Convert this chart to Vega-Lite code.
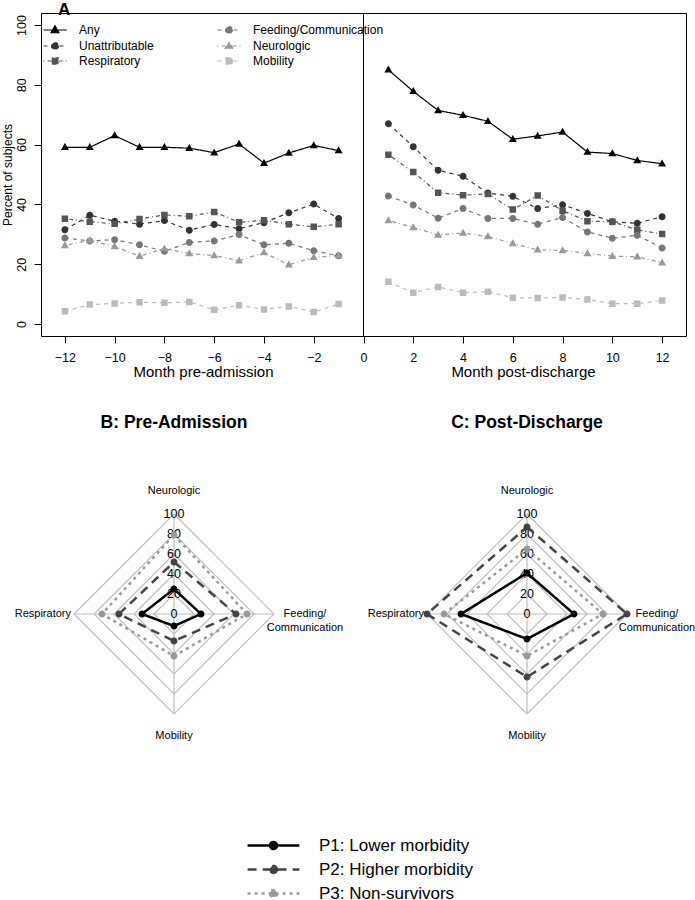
{
  "$schema": "https://vega.github.io/schema/vega-lite/v6.json",
  "padding": {"left": 0, "top": 0, "right": 0, "bottom": 0},
  "background": "white",
  "config": {
    "font": "Liberation Sans",
    "view": {"stroke": null},
    "axis": {"labelFont": "Liberation Sans", "titleFont": "Liberation Sans", "labelColor": "black", "titleColor": "black", "tickColor": "black", "domainColor": "black", "grid": false, "titleFontWeight": "normal"},
    "legend": {"labelFont": "Liberation Sans", "labelColor": "black"},
    "title": {"font": "Liberation Sans", "color": "black"}
  },
  "datasets": {
    "a": [
      {"month": -12, "type": "Any", "pct": 59.1}, {"month": -11, "type": "Any", "pct": 59.1}, {"month": -10, "type": "Any", "pct": 63.0}, {"month": -9, "type": "Any", "pct": 59.1}, {"month": -8, "type": "Any", "pct": 59.1}, {"month": -7, "type": "Any", "pct": 58.8}, {"month": -6, "type": "Any", "pct": 57.3}, {"month": -5, "type": "Any", "pct": 60.2}, {"month": -4, "type": "Any", "pct": 53.8}, {"month": -3, "type": "Any", "pct": 57.2}, {"month": -2, "type": "Any", "pct": 59.7}, {"month": -1, "type": "Any", "pct": 58.0},
      {"month": 1, "type": "Any", "pct": 85.0}, {"month": 2, "type": "Any", "pct": 77.8}, {"month": 3, "type": "Any", "pct": 71.4}, {"month": 4, "type": "Any", "pct": 69.8}, {"month": 5, "type": "Any", "pct": 67.8}, {"month": 6, "type": "Any", "pct": 61.8}, {"month": 7, "type": "Any", "pct": 62.9}, {"month": 8, "type": "Any", "pct": 64.2}, {"month": 9, "type": "Any", "pct": 57.5}, {"month": 10, "type": "Any", "pct": 57.0}, {"month": 11, "type": "Any", "pct": 54.7}, {"month": 12, "type": "Any", "pct": 53.6},
      {"month": -12, "type": "Unattributable", "pct": 31.5}, {"month": -11, "type": "Unattributable", "pct": 36.4}, {"month": -10, "type": "Unattributable", "pct": 34.4}, {"month": -9, "type": "Unattributable", "pct": 33.4}, {"month": -8, "type": "Unattributable", "pct": 34.6}, {"month": -7, "type": "Unattributable", "pct": 31.4}, {"month": -6, "type": "Unattributable", "pct": 33.3}, {"month": -5, "type": "Unattributable", "pct": 31.9}, {"month": -4, "type": "Unattributable", "pct": 33.9}, {"month": -3, "type": "Unattributable", "pct": 37.2}, {"month": -2, "type": "Unattributable", "pct": 40.1}, {"month": -1, "type": "Unattributable", "pct": 35.3},
      {"month": 1, "type": "Unattributable", "pct": 67.0}, {"month": 2, "type": "Unattributable", "pct": 59.3}, {"month": 3, "type": "Unattributable", "pct": 51.4}, {"month": 4, "type": "Unattributable", "pct": 49.4}, {"month": 5, "type": "Unattributable", "pct": 43.8}, {"month": 6, "type": "Unattributable", "pct": 42.7}, {"month": 7, "type": "Unattributable", "pct": 38.6}, {"month": 8, "type": "Unattributable", "pct": 39.9}, {"month": 9, "type": "Unattributable", "pct": 37.0}, {"month": 10, "type": "Unattributable", "pct": 34.2}, {"month": 11, "type": "Unattributable", "pct": 33.7}, {"month": 12, "type": "Unattributable", "pct": 35.9},
      {"month": -12, "type": "Respiratory", "pct": 35.2}, {"month": -11, "type": "Respiratory", "pct": 34.2}, {"month": -10, "type": "Respiratory", "pct": 33.5}, {"month": -9, "type": "Respiratory", "pct": 35.1}, {"month": -8, "type": "Respiratory", "pct": 36.5}, {"month": -7, "type": "Respiratory", "pct": 36.0}, {"month": -6, "type": "Respiratory", "pct": 37.5}, {"month": -5, "type": "Respiratory", "pct": 34.0}, {"month": -4, "type": "Respiratory", "pct": 34.7}, {"month": -3, "type": "Respiratory", "pct": 33.4}, {"month": -2, "type": "Respiratory", "pct": 32.5}, {"month": -1, "type": "Respiratory", "pct": 33.4},
      {"month": 1, "type": "Respiratory", "pct": 56.6}, {"month": 2, "type": "Respiratory", "pct": 50.8}, {"month": 3, "type": "Respiratory", "pct": 43.9}, {"month": 4, "type": "Respiratory", "pct": 43.1}, {"month": 5, "type": "Respiratory", "pct": 43.5}, {"month": 6, "type": "Respiratory", "pct": 38.3}, {"month": 7, "type": "Respiratory", "pct": 43.0}, {"month": 8, "type": "Respiratory", "pct": 37.9}, {"month": 9, "type": "Respiratory", "pct": 34.4}, {"month": 10, "type": "Respiratory", "pct": 34.2}, {"month": 11, "type": "Respiratory", "pct": 31.5}, {"month": 12, "type": "Respiratory", "pct": 30.1},
      {"month": -12, "type": "Feeding/Communication", "pct": 28.8}, {"month": -11, "type": "Feeding/Communication", "pct": 27.8}, {"month": -10, "type": "Feeding/Communication", "pct": 28.2}, {"month": -9, "type": "Feeding/Communication", "pct": 26.5}, {"month": -8, "type": "Feeding/Communication", "pct": 24.3}, {"month": -7, "type": "Feeding/Communication", "pct": 27.3}, {"month": -6, "type": "Feeding/Communication", "pct": 27.8}, {"month": -5, "type": "Feeding/Communication", "pct": 29.9}, {"month": -4, "type": "Feeding/Communication", "pct": 26.5}, {"month": -3, "type": "Feeding/Communication", "pct": 27.0}, {"month": -2, "type": "Feeding/Communication", "pct": 24.5}, {"month": -1, "type": "Feeding/Communication", "pct": 22.8},
      {"month": 1, "type": "Feeding/Communication", "pct": 42.8}, {"month": 2, "type": "Feeding/Communication", "pct": 39.8}, {"month": 3, "type": "Feeding/Communication", "pct": 35.4}, {"month": 4, "type": "Feeding/Communication", "pct": 38.6}, {"month": 5, "type": "Feeding/Communication", "pct": 35.3}, {"month": 6, "type": "Feeding/Communication", "pct": 35.3}, {"month": 7, "type": "Feeding/Communication", "pct": 33.4}, {"month": 8, "type": "Feeding/Communication", "pct": 35.6}, {"month": 9, "type": "Feeding/Communication", "pct": 30.8}, {"month": 10, "type": "Feeding/Communication", "pct": 28.7}, {"month": 11, "type": "Feeding/Communication", "pct": 29.7}, {"month": 12, "type": "Feeding/Communication", "pct": 25.4},
      {"month": -12, "type": "Neurologic", "pct": 26.3}, {"month": -11, "type": "Neurologic", "pct": 28.0}, {"month": -10, "type": "Neurologic", "pct": 25.9}, {"month": -9, "type": "Neurologic", "pct": 22.7}, {"month": -8, "type": "Neurologic", "pct": 25.2}, {"month": -7, "type": "Neurologic", "pct": 23.6}, {"month": -6, "type": "Neurologic", "pct": 22.9}, {"month": -5, "type": "Neurologic", "pct": 21.2}, {"month": -4, "type": "Neurologic", "pct": 23.9}, {"month": -3, "type": "Neurologic", "pct": 19.8}, {"month": -2, "type": "Neurologic", "pct": 22.3}, {"month": -1, "type": "Neurologic", "pct": 22.9},
      {"month": 1, "type": "Neurologic", "pct": 34.6}, {"month": 2, "type": "Neurologic", "pct": 32.3}, {"month": 3, "type": "Neurologic", "pct": 29.8}, {"month": 4, "type": "Neurologic", "pct": 30.4}, {"month": 5, "type": "Neurologic", "pct": 29.3}, {"month": 6, "type": "Neurologic", "pct": 26.9}, {"month": 7, "type": "Neurologic", "pct": 24.8}, {"month": 8, "type": "Neurologic", "pct": 24.6}, {"month": 9, "type": "Neurologic", "pct": 23.6}, {"month": 10, "type": "Neurologic", "pct": 22.7}, {"month": 11, "type": "Neurologic", "pct": 22.5}, {"month": 12, "type": "Neurologic", "pct": 20.5},
      {"month": -12, "type": "Mobility", "pct": 4.3}, {"month": -11, "type": "Mobility", "pct": 6.5}, {"month": -10, "type": "Mobility", "pct": 6.9}, {"month": -9, "type": "Mobility", "pct": 7.3}, {"month": -8, "type": "Mobility", "pct": 7.1}, {"month": -7, "type": "Mobility", "pct": 7.4}, {"month": -6, "type": "Mobility", "pct": 4.8}, {"month": -5, "type": "Mobility", "pct": 6.3}, {"month": -4, "type": "Mobility", "pct": 4.9}, {"month": -3, "type": "Mobility", "pct": 5.9}, {"month": -2, "type": "Mobility", "pct": 4.0}, {"month": -1, "type": "Mobility", "pct": 6.7},
      {"month": 1, "type": "Mobility", "pct": 14.1}, {"month": 2, "type": "Mobility", "pct": 10.5}, {"month": 3, "type": "Mobility", "pct": 12.4}, {"month": 4, "type": "Mobility", "pct": 10.5}, {"month": 5, "type": "Mobility", "pct": 10.8}, {"month": 6, "type": "Mobility", "pct": 8.8}, {"month": 7, "type": "Mobility", "pct": 8.7}, {"month": 8, "type": "Mobility", "pct": 8.9}, {"month": 9, "type": "Mobility", "pct": 8.2}, {"month": 10, "type": "Mobility", "pct": 6.8}, {"month": 11, "type": "Mobility", "pct": 6.8}, {"month": 12, "type": "Mobility", "pct": 7.9}
    ],
    "radar": [
      {"panel": "B", "group": "P1: Lower morbidity", "axis": "Neurologic", "value": 25},
      {"panel": "B", "group": "P1: Lower morbidity", "axis": "Feeding/Communication", "value": 27},
      {"panel": "B", "group": "P1: Lower morbidity", "axis": "Mobility", "value": 12},
      {"panel": "B", "group": "P1: Lower morbidity", "axis": "Respiratory", "value": 32},
      {"panel": "B", "group": "P2: Higher morbidity", "axis": "Neurologic", "value": 52},
      {"panel": "B", "group": "P2: Higher morbidity", "axis": "Feeding/Communication", "value": 62},
      {"panel": "B", "group": "P2: Higher morbidity", "axis": "Mobility", "value": 27},
      {"panel": "B", "group": "P2: Higher morbidity", "axis": "Respiratory", "value": 55},
      {"panel": "B", "group": "P3: Non-survivors", "axis": "Neurologic", "value": 79},
      {"panel": "B", "group": "P3: Non-survivors", "axis": "Feeding/Communication", "value": 73},
      {"panel": "B", "group": "P3: Non-survivors", "axis": "Mobility", "value": 42},
      {"panel": "B", "group": "P3: Non-survivors", "axis": "Respiratory", "value": 72},
      {"panel": "C", "group": "P1: Lower morbidity", "axis": "Neurologic", "value": 41},
      {"panel": "C", "group": "P1: Lower morbidity", "axis": "Feeding/Communication", "value": 47},
      {"panel": "C", "group": "P1: Lower morbidity", "axis": "Mobility", "value": 25},
      {"panel": "C", "group": "P1: Lower morbidity", "axis": "Respiratory", "value": 66},
      {"panel": "C", "group": "P2: Higher morbidity", "axis": "Neurologic", "value": 87},
      {"panel": "C", "group": "P2: Higher morbidity", "axis": "Feeding/Communication", "value": 100},
      {"panel": "C", "group": "P2: Higher morbidity", "axis": "Mobility", "value": 63},
      {"panel": "C", "group": "P2: Higher morbidity", "axis": "Respiratory", "value": 100},
      {"panel": "C", "group": "P3: Non-survivors", "axis": "Neurologic", "value": 65},
      {"panel": "C", "group": "P3: Non-survivors", "axis": "Feeding/Communication", "value": 76},
      {"panel": "C", "group": "P3: Non-survivors", "axis": "Mobility", "value": 42},
      {"panel": "C", "group": "P3: Non-survivors", "axis": "Respiratory", "value": 83}
    ],
    "rings": [
      {"ring": 20, "axis": "Neurologic"}, {"ring": 20, "axis": "Feeding/Communication"}, {"ring": 20, "axis": "Mobility"}, {"ring": 20, "axis": "Respiratory"},
      {"ring": 40, "axis": "Neurologic"}, {"ring": 40, "axis": "Feeding/Communication"}, {"ring": 40, "axis": "Mobility"}, {"ring": 40, "axis": "Respiratory"},
      {"ring": 60, "axis": "Neurologic"}, {"ring": 60, "axis": "Feeding/Communication"}, {"ring": 60, "axis": "Mobility"}, {"ring": 60, "axis": "Respiratory"},
      {"ring": 80, "axis": "Neurologic"}, {"ring": 80, "axis": "Feeding/Communication"}, {"ring": 80, "axis": "Mobility"}, {"ring": 80, "axis": "Respiratory"},
      {"ring": 100, "axis": "Neurologic"}, {"ring": 100, "axis": "Feeding/Communication"}, {"ring": 100, "axis": "Mobility"}, {"ring": 100, "axis": "Respiratory"}
    ],
    "ticks": [{"v": 0}, {"v": 20}, {"v": 40}, {"v": 60}, {"v": 80}, {"v": 100}],
    "axes": [{"axis": "Neurologic"}, {"axis": "Feeding/Communication"}, {"axis": "Mobility"}, {"axis": "Respiratory"}]
  },
  "spacing": 33,
  "resolve": {"scale": {"color": "independent", "strokeDash": "independent", "shape": "independent"}},
  "vconcat": [
    {
      "width": 645,
      "height": 323,
      "view": {"stroke": "black", "strokeWidth": 1},
      "title": {"text": "A", "anchor": "start", "fontSize": 17, "fontWeight": "bold", "dx": 17, "offset": -6, "frame": "group"},
      "resolve": {"axis": {"x": "independent"}},
      "layer": [
        {
          "data": {"values": [{"zero": 0}]},
          "mark": {"type": "rule", "color": "black", "strokeWidth": 1},
          "encoding": {"x": {"field": "zero", "type": "quantitative", "scale": {"domain": [-12.96, 12.96], "nice": false, "zero": false}, "axis": null}}
        },
        {
          "data": {"name": "a"},
          "transform": [{"filter": "datum.month < 0"}],
          "mark": {"type": "line", "strokeWidth": 1.2},
          "encoding": {
            "x": {"field": "month", "type": "quantitative", "scale": {"domain": [-12.96, 12.96], "nice": false, "zero": false},
                  "axis": {"orient": "bottom", "values": [-12, -10, -8, -6, -4, -2, 0], "title": "Month pre-admission", "titleX": 162, "titleFontSize": 15, "titlePadding": 1, "labelFontSize": 12.5, "tickSize": 7, "labelPadding": 8, "domain": false, "labelFlush": false}},
            "y": {"field": "pct", "type": "quantitative", "scale": {"domain": [-4, 104], "nice": false, "zero": false},
                  "axis": {"values": [0, 20, 40, 60, 80, 100], "title": "Percent of subjects", "titleFontSize": 12, "labelAngle": -90, "labelAlign": "center", "labelBaseline": "bottom", "labelFontSize": 12.5, "tickSize": 7, "labelPadding": 6, "domain": false, "titlePadding": 1}},
            "color": {"field": "type", "type": "nominal",
                      "scale": {"domain": ["Any", "Unattributable", "Respiratory", "Feeding/Communication", "Neurologic", "Mobility"], "range": ["#000000", "#333333", "#555555", "#777777", "#999999", "#bbbbbb"]},
                      "legend": {"orient": "none", "legendX": 8, "legendY": 11, "columns": 2, "direction": "vertical", "title": null, "labelFontSize": 12, "symbolSize": 100, "labelOffset": 18, "rowPadding": 3, "columnPadding": 61, "symbolStrokeWidth": 1.2}},
            "strokeDash": {"field": "type", "type": "nominal",
                      "scale": {"domain": ["Any", "Unattributable", "Respiratory", "Feeding/Communication", "Neurologic", "Mobility"], "range": [[1, 0], [4, 4], [1, 3, 4, 3], [4, 4], [1, 3, 4, 3], [4, 4]]}}
          }
        },
        {
          "data": {"name": "a"},
          "transform": [{"filter": "datum.month > 0"}],
          "mark": {"type": "line", "strokeWidth": 1.2},
          "encoding": {
            "x": {"field": "month", "type": "quantitative", "scale": {"domain": [-12.96, 12.96], "nice": false, "zero": false},
                  "axis": {"orient": "bottom", "values": [2, 4, 6, 8, 10, 12], "title": "Month post-discharge", "titleX": 482, "titleFontSize": 15, "titlePadding": 1, "labelFontSize": 12.5, "tickSize": 7, "labelPadding": 8, "domain": false, "labelFlush": false}},
            "y": {"field": "pct", "type": "quantitative", "scale": {"domain": [-4, 104], "nice": false, "zero": false}},
            "color": {"field": "type", "type": "nominal"},
            "strokeDash": {"field": "type", "type": "nominal"}
          }
        },
        {
          "data": {"name": "a"},
          "mark": {"type": "point", "filled": true, "opacity": 1, "size": 100, "strokeWidth": 0},
          "encoding": {
            "x": {"field": "month", "type": "quantitative", "scale": {"domain": [-12.96, 12.96], "nice": false, "zero": false}, "axis": null},
            "y": {"field": "pct", "type": "quantitative", "scale": {"domain": [-4, 104], "nice": false, "zero": false}},
            "color": {"field": "type", "type": "nominal"},
            "shape": {"field": "type", "type": "nominal",
                      "scale": {"domain": ["Any", "Unattributable", "Respiratory", "Feeding/Communication", "Neurologic", "Mobility"],
                                "range": ["M-2.3,0H2.3M0,-0.85L0.8,0.55L-0.8,0.55Z", "M-2.3,0H2.3M0.7,0A0.7,0.7,0,1,1,-0.7,0A0.7,0.7,0,1,1,0.7,0Z", "M-2.3,0H2.3M-0.65,-0.65H0.65V0.65H-0.65Z", "M-2.3,0H2.3M0.7,0A0.7,0.7,0,1,1,-0.7,0A0.7,0.7,0,1,1,0.7,0Z", "M-2.3,0H2.3M0,-0.85L0.8,0.55L-0.8,0.55Z", "M-2.3,0H2.3M-0.65,-0.65H0.65V0.65H-0.65Z"]}}
          }
        }
      ]
    },
    {
      "spacing": 10,
      "hconcat": [
        {
          "width": 300, "height": 300,
          "title": {"text": "B: Pre-Admission", "fontSize": 17.5, "fontWeight": "bold", "offset": 33, "anchor": "middle", "dx": -17},
          "layer": [
            {
              "data": {"name": "rings"},
              "transform": [
                {"calculate": "datum.axis === 'Feeding/Communication' ? datum.ring : (datum.axis === 'Respiratory' ? -datum.ring : 0)", "as": "x"},
                {"calculate": "datum.axis === 'Neurologic' ? datum.ring : (datum.axis === 'Mobility' ? -datum.ring : 0)", "as": "y"},
                {"calculate": "indexof(['Neurologic','Feeding/Communication','Mobility','Respiratory'], datum.axis)", "as": "ord"}
              ],
              "mark": {"type": "line", "interpolate": "linear-closed", "color": "#bebebe", "strokeWidth": 1.2},
              "encoding": {
                "x": {"field": "x", "type": "quantitative", "scale": {"domain": [-133, 167], "nice": false, "zero": false}, "axis": null},
                "y": {"field": "y", "type": "quantitative", "scale": {"domain": [-150, 150], "nice": false, "zero": false}, "axis": null},
                "detail": {"field": "ring", "type": "nominal"},
                "order": {"field": "ord", "type": "quantitative"}
              }
            },
            {
              "data": {"name": "rings"},
              "transform": [
                {"filter": "datum.ring === 100"},
                {"calculate": "datum.axis === 'Feeding/Communication' ? datum.ring : (datum.axis === 'Respiratory' ? -datum.ring : 0)", "as": "x"},
                {"calculate": "datum.axis === 'Neurologic' ? datum.ring : (datum.axis === 'Mobility' ? -datum.ring : 0)", "as": "y"},
                {"calculate": "0", "as": "x0"}
              ],
              "mark": {"type": "rule", "color": "#bebebe", "strokeWidth": 1.2},
              "encoding": {
                "x": {"field": "x0", "type": "quantitative", "scale": {"domain": [-133, 167], "nice": false, "zero": false}, "axis": null},
                "y": {"field": "x0", "type": "quantitative", "scale": {"domain": [-150, 150], "nice": false, "zero": false}, "axis": null},
                "x2": {"field": "x"},
                "y2": {"field": "y"}
              }
            },
            {
              "data": {"name": "ticks"},
              "transform": [{"calculate": "0", "as": "x0"}],
              "mark": {"type": "text", "fontSize": 12.5, "color": "black", "align": "center", "baseline": "middle"},
              "encoding": {
                "x": {"field": "x0", "type": "quantitative", "scale": {"domain": [-133, 167], "nice": false, "zero": false}, "axis": null},
                "y": {"field": "v", "type": "quantitative", "scale": {"domain": [-150, 150], "nice": false, "zero": false}, "axis": null},
                "text": {"field": "v", "type": "quantitative"}
              }
            },
            {
              "data": {"name": "radar"},
              "transform": [
                {"filter": "datum.panel === 'B'"},
                {"calculate": "datum.axis === 'Feeding/Communication' ? datum.value : (datum.axis === 'Respiratory' ? -datum.value : 0)", "as": "x"},
                {"calculate": "datum.axis === 'Neurologic' ? datum.value : (datum.axis === 'Mobility' ? -datum.value : 0)", "as": "y"},
                {"calculate": "indexof(['Neurologic','Feeding/Communication','Mobility','Respiratory'], datum.axis)", "as": "ord"}
              ],
              "mark": {"type": "line", "interpolate": "linear-closed", "strokeWidth": 2.5},
              "encoding": {
                "x": {"field": "x", "type": "quantitative", "scale": {"domain": [-133, 167], "nice": false, "zero": false}, "axis": null},
                "y": {"field": "y", "type": "quantitative", "scale": {"domain": [-150, 150], "nice": false, "zero": false}, "axis": null},
                "color": {"field": "group", "type": "nominal", "scale": {"domain": ["P1: Lower morbidity", "P2: Higher morbidity", "P3: Non-survivors"], "range": ["#000000", "#444444", "#999999"]},
                  "legend": {"orient": "none", "legendX": 224, "legendY": 373, "title": null, "direction": "vertical", "labelFontSize": 17, "symbolSize": 196, "labelOffset": 37, "rowPadding": 6, "symbolStrokeWidth": 2.5}},
                "strokeDash": {"field": "group", "type": "nominal", "scale": {"domain": ["P1: Lower morbidity", "P2: Higher morbidity", "P3: Non-survivors"], "range": [[1, 0], [9, 6], [3, 4]]}},
                "detail": {"field": "group", "type": "nominal"},
                "order": {"field": "ord", "type": "quantitative"}
              }
            },
            {
              "data": {"name": "radar"},
              "transform": [
                {"filter": "datum.panel === 'B'"},
                {"calculate": "datum.axis === 'Feeding/Communication' ? datum.value : (datum.axis === 'Respiratory' ? -datum.value : 0)", "as": "x"},
                {"calculate": "datum.axis === 'Neurologic' ? datum.value : (datum.axis === 'Mobility' ? -datum.value : 0)", "as": "y"}
              ],
              "mark": {"type": "point", "filled": true, "opacity": 1, "size": 196, "strokeWidth": 0},
              "encoding": {
                "x": {"field": "x", "type": "quantitative", "scale": {"domain": [-133, 167], "nice": false, "zero": false}, "axis": null},
                "y": {"field": "y", "type": "quantitative", "scale": {"domain": [-150, 150], "nice": false, "zero": false}, "axis": null},
                "color": {"field": "group", "type": "nominal"},
                "shape": {"field": "group", "type": "nominal", "scale": {"domain": ["P1: Lower morbidity", "P2: Higher morbidity", "P3: Non-survivors"],
                  "range": ["M-3.7,0H3.7M0.5,0A0.5,0.5,0,1,1,-0.5,0A0.5,0.5,0,1,1,0.5,0Z", "M-3.7,0H3.7M0.5,0A0.5,0.5,0,1,1,-0.5,0A0.5,0.5,0,1,1,0.5,0Z", "M-3.7,0H3.7M0.5,0A0.5,0.5,0,1,1,-0.5,0A0.5,0.5,0,1,1,0.5,0Z"]}}
              }
            },
            {
              "data": {"name": "axes"},
              "transform": [
                {"calculate": "datum.axis === 'Feeding/Communication' ? 131 : (datum.axis === 'Respiratory' ? -103 : 0)", "as": "x"},
                {"calculate": "datum.axis === 'Neurologic' ? 123 : (datum.axis === 'Mobility' ? -122 : 0)", "as": "y"},
                {"calculate": "replace(datum.axis, '/', '/\\n')", "as": "label"}
              ],
              "layer": [
                {
                  "transform": [{"filter": "datum.axis !== 'Respiratory'"}],
                  "mark": {"type": "text", "fontSize": 11, "color": "black", "align": "center", "baseline": "middle", "lineBreak": "\n", "lineHeight": 13.5},
                  "encoding": {
                    "x": {"field": "x", "type": "quantitative", "scale": {"domain": [-133, 167], "nice": false, "zero": false}, "axis": null},
                    "y": {"field": "y", "type": "quantitative", "scale": {"domain": [-150, 150], "nice": false, "zero": false}, "axis": null},
                    "text": {"field": "label", "type": "nominal"}
                  }
                },
                {
                  "transform": [{"filter": "datum.axis === 'Respiratory'"}],
                  "mark": {"type": "text", "fontSize": 11, "color": "black", "align": "right", "baseline": "middle"},
                  "encoding": {
                    "x": {"field": "x", "type": "quantitative", "scale": {"domain": [-133, 167], "nice": false, "zero": false}, "axis": null},
                    "y": {"field": "y", "type": "quantitative", "scale": {"domain": [-150, 150], "nice": false, "zero": false}, "axis": null},
                    "text": {"field": "label", "type": "nominal"}
                  }
                }
              ]
            }
          ]
        },
        {
          "width": 340, "height": 300,
          "title": {"text": "C: Post-Discharge", "fontSize": 17.5, "fontWeight": "bold", "offset": 33, "anchor": "middle", "dx": 3},
          "layer": [
            {
              "data": {"name": "rings"},
              "transform": [
                {"calculate": "datum.axis === 'Feeding/Communication' ? datum.ring : (datum.axis === 'Respiratory' ? -datum.ring : 0)", "as": "x"},
                {"calculate": "datum.axis === 'Neurologic' ? datum.ring : (datum.axis === 'Mobility' ? -datum.ring : 0)", "as": "y"},
                {"calculate": "indexof(['Neurologic','Feeding/Communication','Mobility','Respiratory'], datum.axis)", "as": "ord"}
              ],
              "mark": {"type": "line", "interpolate": "linear-closed", "color": "#bebebe", "strokeWidth": 1.2},
              "encoding": {
                "x": {"field": "x", "type": "quantitative", "scale": {"domain": [-173, 167], "nice": false, "zero": false}, "axis": null},
                "y": {"field": "y", "type": "quantitative", "scale": {"domain": [-150, 150], "nice": false, "zero": false}, "axis": null},
                "detail": {"field": "ring", "type": "nominal"},
                "order": {"field": "ord", "type": "quantitative"}
              }
            },
            {
              "data": {"name": "rings"},
              "transform": [
                {"filter": "datum.ring === 100"},
                {"calculate": "datum.axis === 'Feeding/Communication' ? datum.ring : (datum.axis === 'Respiratory' ? -datum.ring : 0)", "as": "x"},
                {"calculate": "datum.axis === 'Neurologic' ? datum.ring : (datum.axis === 'Mobility' ? -datum.ring : 0)", "as": "y"},
                {"calculate": "0", "as": "x0"}
              ],
              "mark": {"type": "rule", "color": "#bebebe", "strokeWidth": 1.2},
              "encoding": {
                "x": {"field": "x0", "type": "quantitative", "scale": {"domain": [-173, 167], "nice": false, "zero": false}, "axis": null},
                "y": {"field": "x0", "type": "quantitative", "scale": {"domain": [-150, 150], "nice": false, "zero": false}, "axis": null},
                "x2": {"field": "x"},
                "y2": {"field": "y"}
              }
            },
            {
              "data": {"name": "ticks"},
              "transform": [{"calculate": "0", "as": "x0"}],
              "mark": {"type": "text", "fontSize": 12.5, "color": "black", "align": "center", "baseline": "middle"},
              "encoding": {
                "x": {"field": "x0", "type": "quantitative", "scale": {"domain": [-173, 167], "nice": false, "zero": false}, "axis": null},
                "y": {"field": "v", "type": "quantitative", "scale": {"domain": [-150, 150], "nice": false, "zero": false}, "axis": null},
                "text": {"field": "v", "type": "quantitative"}
              }
            },
            {
              "data": {"name": "radar"},
              "transform": [
                {"filter": "datum.panel === 'C'"},
                {"calculate": "datum.axis === 'Feeding/Communication' ? datum.value : (datum.axis === 'Respiratory' ? -datum.value : 0)", "as": "x"},
                {"calculate": "datum.axis === 'Neurologic' ? datum.value : (datum.axis === 'Mobility' ? -datum.value : 0)", "as": "y"},
                {"calculate": "indexof(['Neurologic','Feeding/Communication','Mobility','Respiratory'], datum.axis)", "as": "ord"}
              ],
              "mark": {"type": "line", "interpolate": "linear-closed", "strokeWidth": 2.5},
              "encoding": {
                "x": {"field": "x", "type": "quantitative", "scale": {"domain": [-173, 167], "nice": false, "zero": false}, "axis": null},
                "y": {"field": "y", "type": "quantitative", "scale": {"domain": [-150, 150], "nice": false, "zero": false}, "axis": null},
                "color": {"field": "group", "type": "nominal"},
                "strokeDash": {"field": "group", "type": "nominal"},
                "detail": {"field": "group", "type": "nominal"},
                "order": {"field": "ord", "type": "quantitative"}
              }
            },
            {
              "data": {"name": "radar"},
              "transform": [
                {"filter": "datum.panel === 'C'"},
                {"calculate": "datum.axis === 'Feeding/Communication' ? datum.value : (datum.axis === 'Respiratory' ? -datum.value : 0)", "as": "x"},
                {"calculate": "datum.axis === 'Neurologic' ? datum.value : (datum.axis === 'Mobility' ? -datum.value : 0)", "as": "y"}
              ],
              "mark": {"type": "point", "filled": true, "opacity": 1, "size": 196, "strokeWidth": 0},
              "encoding": {
                "x": {"field": "x", "type": "quantitative", "scale": {"domain": [-173, 167], "nice": false, "zero": false}, "axis": null},
                "y": {"field": "y", "type": "quantitative", "scale": {"domain": [-150, 150], "nice": false, "zero": false}, "axis": null},
                "color": {"field": "group", "type": "nominal"},
                "shape": {"field": "group", "type": "nominal"}
              }
            },
            {
              "data": {"name": "axes"},
              "transform": [
                {"calculate": "datum.axis === 'Feeding/Communication' ? 130 : (datum.axis === 'Respiratory' ? -103 : 0)", "as": "x"},
                {"calculate": "datum.axis === 'Neurologic' ? 123 : (datum.axis === 'Mobility' ? -122 : 0)", "as": "y"},
                {"calculate": "replace(datum.axis, '/', '/\\n')", "as": "label"}
              ],
              "layer": [
                {
                  "transform": [{"filter": "datum.axis !== 'Respiratory'"}],
                  "mark": {"type": "text", "fontSize": 11, "color": "black", "align": "center", "baseline": "middle", "lineBreak": "\n", "lineHeight": 13.5},
                  "encoding": {
                    "x": {"field": "x", "type": "quantitative", "scale": {"domain": [-173, 167], "nice": false, "zero": false}, "axis": null},
                    "y": {"field": "y", "type": "quantitative", "scale": {"domain": [-150, 150], "nice": false, "zero": false}, "axis": null},
                    "text": {"field": "label", "type": "nominal"}
                  }
                },
                {
                  "transform": [{"filter": "datum.axis === 'Respiratory'"}],
                  "mark": {"type": "text", "fontSize": 11, "color": "black", "align": "right", "baseline": "middle"},
                  "encoding": {
                    "x": {"field": "x", "type": "quantitative", "scale": {"domain": [-173, 167], "nice": false, "zero": false}, "axis": null},
                    "y": {"field": "y", "type": "quantitative", "scale": {"domain": [-150, 150], "nice": false, "zero": false}, "axis": null},
                    "text": {"field": "label", "type": "nominal"}
                  }
                }
              ]
            }
          ]
        }
      ]
    }
  ]
}
